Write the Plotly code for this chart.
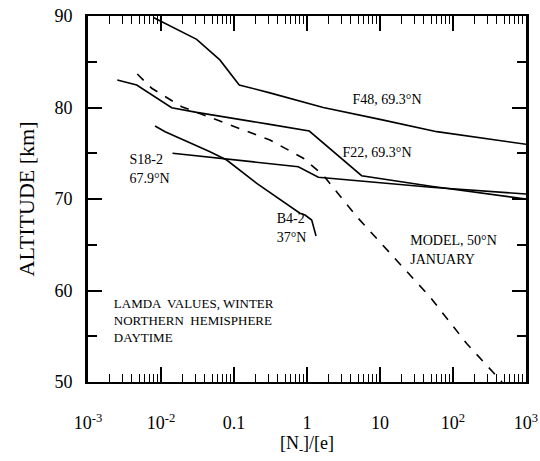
import plotly.graph_objects as go

# ---- data ----
f48_x = [0.008, 0.0308, 0.064, 0.118, 0.31, 1.67, 10, 60, 1000]
f48_y = [89.8, 87.45, 85.2, 82.46, 81.6, 80.0, 78.7, 77.36, 75.98]

f22_x = [0.00252, 0.00465, 0.014, 0.0308, 0.31, 1.075, 5.6, 50, 1000]
f22_y = [83.0, 82.46, 79.98, 79.47, 78.16, 77.43, 72.55, 71.4, 70.0]

s18_x = [0.0144, 0.31, 0.76, 1.43, 50, 1000]
s18_y = [75.0, 73.9, 73.53, 72.37, 71.28, 70.55]

b4_x = [0.00828, 0.0114, 0.0469, 0.0794, 0.205, 0.427, 0.80, 0.94, 1.16, 1.33]
b4_y = [77.98, 77.36, 75.17, 74.26, 71.7, 69.9, 68.44, 68.25, 67.7, 65.96]

model_x = [0.00473, 0.00746, 0.0192, 0.0423, 0.311, 0.89, 1.67, 4.8, 13.7, 48.4, 154, 357, 470]
model_y = [83.66, 82.1, 80.09, 79.07, 76.45, 74.45, 72.6, 68.07, 64.07, 59.3, 54.2, 51.1, 50]

x_tickvals = [0.001, 0.01, 0.1, 1, 10, 100, 1000]
x_ticklabels = ["10<sup>-3</sup>", "10<sup>-2</sup>", "0.1", "1", "10", "10<sup>2</sup>", "10<sup>3</sup>"]
y_tickvals = [50, 60, 70, 80, 90]
y_ticklabels = ["50", "60", "70", "80", "90"]
y_minor = [55, 65, 75, 85]
x_minor = [m * d for d in [0.001, 0.01, 0.1, 1, 10, 100] for m in range(2, 10)]

# curve labels
centered_text = ["F48, 69.3°N", "F22, 69.3°N"]
centered_x = [12.5, 9.1]
centered_y = [80.82, 74.92]
left_text = ["S18-2<br>67.9°N", "B4-2<br>37°N", "MODEL, 50°N<br>JANUARY"]
left_x = [0.0037, 0.385, 26.0]
left_y = [73.17, 66.72, 64.32]
box_text = ["LAMDA  VALUES, WINTER<br>NORTHERN  HEMISPHERE<br>DAYTIME"]
box_x = [0.00226]
box_y = [56.56]

FONT = "Liberation Serif, Times New Roman, serif"

# label spacing: an empty first line pushes x labels down, trailing spaces push y labels left
x_ticktext = ["<br>" + t for t in x_ticklabels]
y_ticktext = [t + "\u00a0\u00a0" for t in y_ticklabels]

fig = go.Figure()
line = dict(color="black", width=1.6)
fig.add_trace(go.Scatter(x=f48_x, y=f48_y, mode="lines", line=line))
fig.add_trace(go.Scatter(x=f22_x, y=f22_y, mode="lines", line=line))
fig.add_trace(go.Scatter(x=s18_x, y=s18_y, mode="lines", line=line))
fig.add_trace(go.Scatter(x=b4_x, y=b4_y, mode="lines", line=line))
fig.add_trace(go.Scatter(x=model_x, y=model_y, mode="lines",
                         line=dict(color="black", width=1.6, dash="dash")))

fig.add_trace(go.Scatter(x=centered_x, y=centered_y, mode="text", text=centered_text,
                         textposition="middle center", cliponaxis=False,
                         textfont=dict(size=14, family=FONT, color="black")))
fig.add_trace(go.Scatter(x=left_x, y=left_y, mode="text", text=left_text,
                         textposition="middle right", cliponaxis=False,
                         textfont=dict(size=14, family=FONT, color="black")))
fig.add_trace(go.Scatter(x=box_x, y=box_y, mode="text", text=box_text,
                         textposition="middle right", cliponaxis=False,
                         textfont=dict(size=13, family=FONT, color="black")))

fig.update_layout(
    width=540, height=461,
    margin=dict(l=88, r=14, t=16, b=79),
    paper_bgcolor="white", plot_bgcolor="white",
    showlegend=False,
    xaxis=dict(
        type="log", range=[-3, 3], automargin=False,
        showgrid=False, zeroline=False,
        showline=True, linecolor="black", linewidth=2.2, mirror="ticks",
        ticks="inside", ticklen=15, tickwidth=1.6, tickcolor="black",
        tickmode="array", tickvals=x_tickvals, ticktext=x_ticktext,
        tickfont=dict(size=18, family=FONT, color="black"),
        minor=dict(ticks="inside", ticklen=8, tickwidth=1.3, tickcolor="black",
                   tickmode="array", tickvals=x_minor, showgrid=False),
        title=dict(text="[N<sub>-</sub>]/[e]", standoff=0,
                   font=dict(size=18, family=FONT, color="black")),
    ),
    yaxis=dict(
        range=[50, 90], automargin=False,
        showgrid=False, zeroline=False,
        showline=True, linecolor="black", linewidth=2.8, mirror="ticks",
        ticks="inside", ticklen=14, tickwidth=1.8, tickcolor="black",
        tickmode="array", tickvals=y_tickvals, ticktext=y_ticktext,
        tickfont=dict(size=18, family=FONT, color="black"),
        minor=dict(ticks="inside", ticklen=9, tickwidth=1.5, tickcolor="black",
                   tickmode="array", tickvals=y_minor, showgrid=False),
        title=dict(text="ALTITUDE [km]", standoff=14,
                   font=dict(size=22, family=FONT, color="black")),
    ),
)

fig.write_html("out.html")
